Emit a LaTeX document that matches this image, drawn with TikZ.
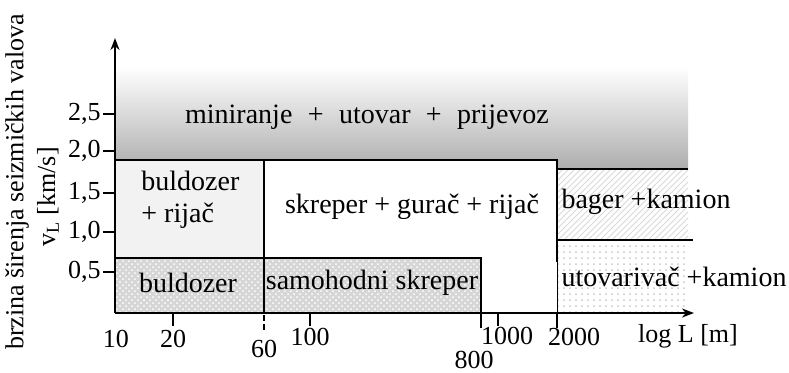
\documentclass[tikz,border=0pt]{standalone}
\usepackage{fontspec}
\setmainfont{Liberation Serif}
\usetikzlibrary{patterns,arrows.meta}

\begin{document}
\begin{tikzpicture}[x=0.5pt, y=-0.5pt, font=\fontsize{14}{16}\selectfont]
		% Styles
		\tikzstyle{border} = [line width=1.3pt]
		\tikzstyle{axis} = [line width=1.1pt,-{Stealth[length=6pt,width=4.5pt]}]
		\tikzstyle{tick} = [line width=1.1pt]
		\tikzstyle{num} = [inner sep=0pt, font=\fontsize{13}{15}\selectfont]
		\tikzstyle{area} = [inner sep=0pt, align=center]
		
		\useasboundingbox (0,0) rectangle (789,372);
		
		% Areas
		\shade[top color=white, bottom color=black!32] (115,67) rectangle (688,169);
		\fill[gray!10] (115,160) rectangle (264,258);
		\fill[white] (264,160) rectangle (557,313);
		\fill[gray!32] (115,258) rectangle (481,313);
		\fill[pattern=crosshatch dots, pattern color=white] (115,258) rectangle (481,313);
		\fill[pattern=north east lines, pattern color=gray!30] (557,169) rectangle (688,240);
		\fill[pattern=dots, pattern color=gray!45] (557,240) rectangle (688,313);
		
		% Borders
		\draw[border] (115,160) -- (557,160) -- (557,169) -- (688,169);
		\draw[border] (557,160) -- (557,262);
		\draw[thin] (557,262) -- (557,313);
		\draw[border] (557,240) -- (693,240);
		\draw[border] (264,160) -- (264,313);
		\draw[border] (115,258) -- (481,258) -- (481,313);
		
		% Axes
		\draw[axis] (115,313) -- (115,38);
		\draw[axis] (115,313) -- (694,313);
		
		% Ticks
		\foreach \y/\v in {114/{2,5}, 151/{2,0}, 193/{1,5}, 232/{1,0}, 272/{0,5}} {
			\draw[tick] (103,\y) -- (115,\y);
			\node[num, anchor=east] (ylab\y) at (101,\y) {\v};
		}
		\foreach \x in {173,310,498} \draw[tick] (\x,313) -- (\x,326);
		\draw[tick, dash pattern=on 3pt off 1.5pt] (264,315) -- (264,331);
		\draw[border] (481,313) -- (481,328);
		\draw[border] (557,313) -- (557,328);
		
		% Tick labels
		\node[num] (x10) at (116,339) {10};
		\node[num] (x20) at (173,339) {20};
		\node[num] (x60) at (264,349) {60};
		\node[num] (x100) at (310,337) {100};
		\node[num] (x800) at (474,360) {800};
		\node[num] (x1000) at (507,336) {1000};
		\node[num] (x2000) at (574,337) {2000};
		\node[num] (xlabel) at (688,336) {log L [m]};
		
		% Axis title
		\node[num, rotate=90] (ytitle) at (17,182) {brzina širenja seizmičkih valova};
		\node[num, rotate=90] (yunit) at (48,197) {v\textsubscript{L} [km/s]};
		
		% Area labels
		\node[area] (blasting) at (367,117) {miniranje\hspace{0.55em}+\hspace{0.55em}utovar\hspace{0.55em}+\hspace{0.55em}prijevoz};
		\node[area, align=left, anchor=west] (dozerRipper) at (141,200) {buldozer\\+ rijač};
		\node[area] (scraperPusher) at (412,207) {skreper + gurač + rijač};
		\node[area] (excavatorTruck) at (646,202) {bager +kamion};
		\node[area] (loaderTruck) at (674,277) {utovarivač +kamion};
		\node[area] (dozer) at (188,283) {buldozer};
		\node[area] (scraper) at (372,283) {samohodni skreper};
	\end{tikzpicture}
\end{document}
